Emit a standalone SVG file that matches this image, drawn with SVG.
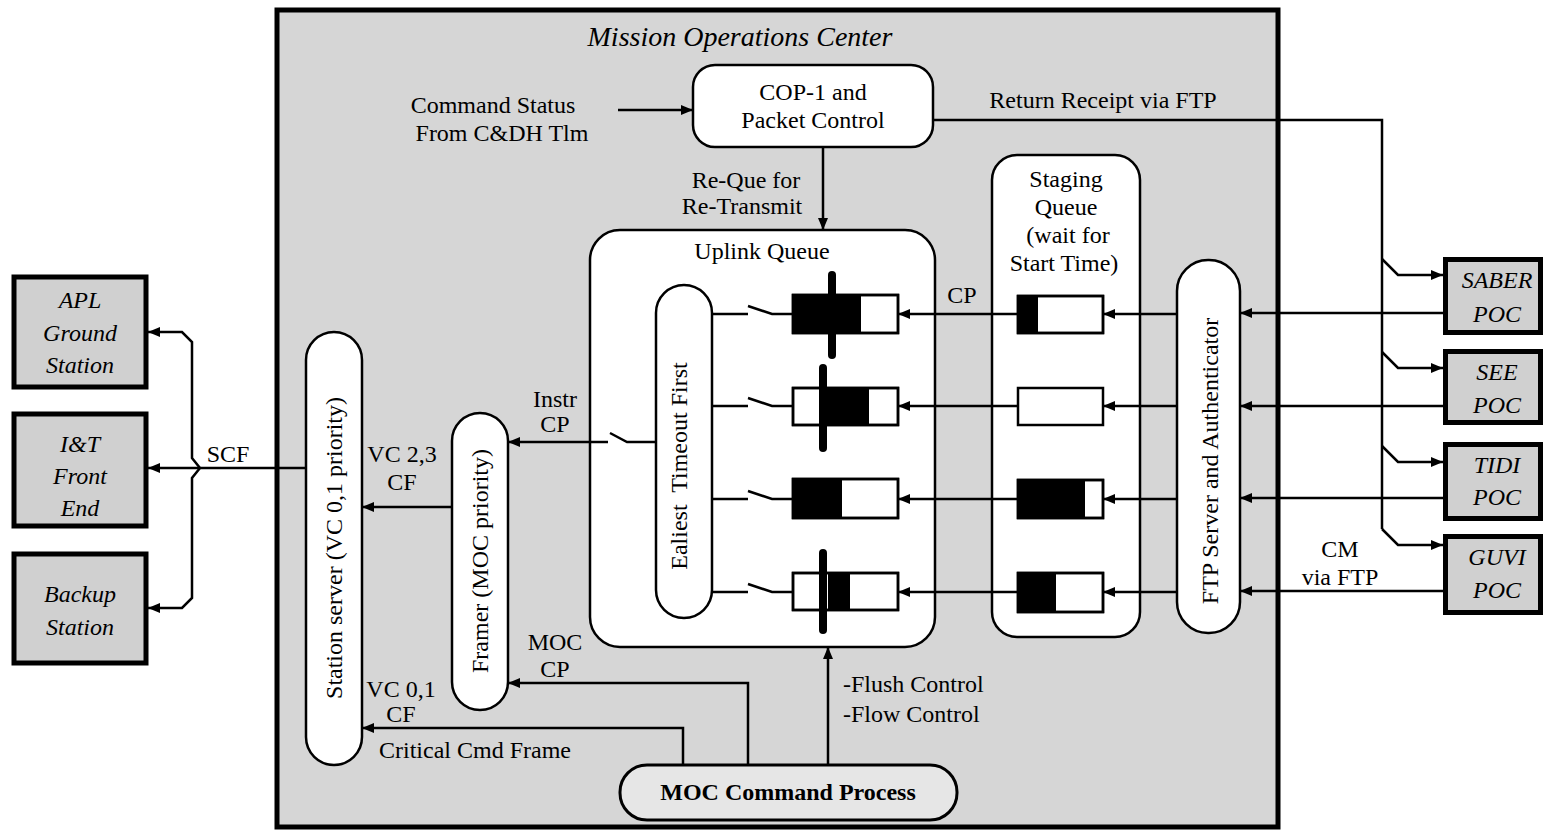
<svg xmlns="http://www.w3.org/2000/svg" width="1545" height="832" viewBox="0 0 1545 832">
<defs>
<marker id="ah" viewBox="0 0 12 10" refX="12" refY="5" markerWidth="12" markerHeight="10" markerUnits="userSpaceOnUse" orient="auto"><path d="M0,0 L12,5 L0,10 z" fill="#000"/></marker>
</defs>
<style>
text { font-family: "Liberation Serif", "Times New Roman", serif; fill:#000; font-size:24px; }
.m { text-anchor: middle; }
.it { font-style: italic; }
.b { font-weight: bold; }
.ln { fill:none; stroke:#000; stroke-width:2.5; }
.arr { marker-end:url(#ah); }
.pill { fill:#fff; stroke:#000; stroke-width:2.5; }
.ext { fill:#d0d0d0; stroke:#000; stroke-width:5; }
.buf { fill:#fff; stroke:#000; stroke-width:2.5; }
.bo { fill:none; stroke:#000; stroke-width:2.5; }
.blk { fill:#000; }
.bar { stroke:#000; stroke-width:8; stroke-linecap:round; }
</style>
<rect x="0" y="0" width="1545" height="832" fill="#fff"/>

<g id="moc">
<rect x="277" y="10" width="1001" height="817" fill="#d6d6d6" stroke="#000" stroke-width="5"/>
<text x="740" y="46" class="m it" style="font-size:28px">Mission Operations Center</text>
</g>

<g id="apl"><rect class="ext" x="14" y="277" width="132" height="110"/>
<text class="m it" x="80" y="308">APL</text><text class="m it" x="80" y="341">Ground</text><text class="m it" x="80" y="373">Station</text></g>
<g id="itfe"><rect class="ext" x="14" y="414" width="132" height="112"/>
<text class="m it" x="80" y="452">I&amp;T</text><text class="m it" x="80" y="484">Front</text><text class="m it" x="80" y="516">End</text></g>
<g id="backup"><rect class="ext" x="14" y="554" width="132" height="109"/>
<text class="m it" x="80" y="602">Backup</text><text class="m it" x="80" y="635">Station</text></g>

<g id="saber"><rect class="ext" x="1445.5" y="259.5" width="95" height="73"/>
<text class="m it" x="1497" y="288">SABER</text><text class="m it" x="1497" y="322">POC</text></g>
<g id="see"><rect class="ext" x="1445.5" y="351.5" width="95" height="71"/>
<text class="m it" x="1497" y="380">SEE</text><text class="m it" x="1497" y="413">POC</text></g>
<g id="tidi"><rect class="ext" x="1445.5" y="444.5" width="95" height="74"/>
<text class="m it" x="1497" y="473">TIDI</text><text class="m it" x="1497" y="505">POC</text></g>
<g id="guvi"><rect class="ext" x="1445.5" y="536.5" width="95" height="76"/>
<text class="m it" x="1497" y="565">GUVI</text><text class="m it" x="1497" y="598">POC</text></g>

<g id="cop"><rect class="pill" x="693" y="65" width="240" height="82" rx="22"/>
<text class="m" x="813" y="100">COP-1 and</text><text class="m" x="813" y="128">Packet Control</text></g>

<g id="station"><rect class="pill" x="306" y="332" width="56" height="433" rx="28"/>
<text class="m" transform="translate(342,548) rotate(-90)">Station server (VC 0,1 priority)</text></g>

<g id="framer"><rect class="pill" x="452" y="413" width="56" height="297" rx="28"/>
<text class="m" transform="translate(488,561) rotate(-90)">Framer (MOC priority)</text></g>

<g id="uplink"><rect class="pill" x="590" y="230" width="345" height="417" rx="30"/>
<text class="m" x="762" y="259">Uplink Queue</text></g>

<g id="eft"><rect class="pill" x="656" y="285" width="56" height="333" rx="28"/>
<text class="m" style="white-space:pre" transform="translate(687,466) rotate(-90)">Ealiest  Timeout First</text></g>

<g id="uq-buffers">
<rect class="buf" x="793" y="295" width="105" height="38"/><rect class="blk" x="793" y="295" width="68" height="38"/><rect class="bo" x="793" y="295" width="105" height="38"/>
<line class="bar" x1="832" y1="275" x2="832" y2="355"/>
<rect class="buf" x="793" y="388" width="105" height="37"/><rect class="blk" x="823" y="388" width="46" height="37"/><rect class="bo" x="793" y="388" width="105" height="37"/>
<line class="bar" x1="823" y1="368" x2="823" y2="448"/>
<rect class="buf" x="793" y="479" width="105" height="39"/><rect class="blk" x="793" y="479" width="49" height="39"/><rect class="bo" x="793" y="479" width="105" height="39"/>
<rect class="buf" x="793" y="573" width="105" height="37"/><rect class="blk" x="828" y="573" width="22" height="37"/><rect class="bo" x="793" y="573" width="105" height="37"/>
<line class="bar" x1="823" y1="553" x2="823" y2="630"/>
</g>

<g id="staging"><rect class="pill" x="992" y="155" width="148" height="482" rx="25"/>
<text class="m" x="1066" y="187">Staging</text><text class="m" x="1066" y="215">Queue</text><text class="m" x="1068" y="243">(wait for</text><text class="m" x="1064" y="271">Start Time)</text>
<rect class="buf" x="1018" y="296" width="85" height="37"/><rect class="blk" x="1018" y="296" width="20" height="37"/><rect class="bo" x="1018" y="296" width="85" height="37"/>
<rect class="buf" x="1018" y="388" width="85" height="37"/>
<rect class="buf" x="1018" y="480" width="85" height="38"/><rect class="blk" x="1018" y="480" width="67" height="38"/><rect class="bo" x="1018" y="480" width="85" height="38"/>
<rect class="buf" x="1018" y="573" width="85" height="39"/><rect class="blk" x="1018" y="573" width="38" height="39"/><rect class="bo" x="1018" y="573" width="85" height="39"/>
</g>

<g id="ftp"><rect class="pill" x="1177" y="260" width="63" height="373" rx="31"/>
<text class="m" transform="translate(1218,461) rotate(-90)">FTP Server and Authenticator</text></g>

<g id="moccmd"><rect x="620" y="765" width="337" height="55" rx="27" fill="#e6e6e6" stroke="#000" stroke-width="3"/>
<text class="m b" x="788" y="800">MOC Command Process</text></g>

<g id="connectors">
<path class="ln arr" d="M618,110 L693,110"/>
<path class="ln" d="M933,120 L1382,120 L1382,529"/>
<path class="ln arr" d="M1382,259 L1398,275 L1443,275"/>
<path class="ln arr" d="M1382,352 L1398,368 L1443,368"/>
<path class="ln arr" d="M1382,446 L1398,462 L1443,462"/>
<path class="ln arr" d="M1382,529 L1398,545 L1443,545"/>
<path class="ln arr" d="M823,147 L823,230"/>
<path class="ln arr" d="M1443,313 L1240,313"/>
<path class="ln arr" d="M1443,406 L1240,406"/>
<path class="ln arr" d="M1443,498 L1240,498"/>
<path class="ln arr" d="M1443,591 L1240,591"/>
<path class="ln arr" d="M1177,314 L1103,314"/>
<path class="ln arr" d="M1177,406 L1103,406"/>
<path class="ln arr" d="M1177,499 L1103,499"/>
<path class="ln arr" d="M1177,592 L1103,592"/>
<path class="ln arr" d="M1018,314 L898,314"/>
<path class="ln arr" d="M1018,406 L898,406"/>
<path class="ln arr" d="M1018,499 L898,499"/>
<path class="ln arr" d="M1018,592 L898,592"/>
<path class="ln" d="M712,314 L748,314 M748,306 L772,314 L793,314"/>
<path class="ln" d="M712,406 L748,406 M748,398 L772,406 L793,406"/>
<path class="ln" d="M712,499 L748,499 M748,491 L772,499 L793,499"/>
<path class="ln" d="M712,592 L748,592 M748,584 L772,592 L793,592"/>
<path class="ln" d="M656,442 L627,442 L610,433"/>
<path class="ln arr" d="M608,442 L508,442"/>
<path class="ln arr" d="M452,507 L362,507"/>
<path class="ln arr" d="M306,468 L148,468"/>
<path class="ln arr" d="M200,468 L192,458 L192,342 L182,332 L148,332"/>
<path class="ln arr" d="M200,468 L192,478 L192,598 L182,608 L148,608"/>
<path class="ln arr" d="M748,765 L748,683 L508,683"/>
<path class="ln arr" d="M683,765 L683,728 L362,728"/>
<path class="ln arr" d="M828,765 L828,647"/>
</g>

<g id="labels">
<text class="m" x="493" y="113">Command Status</text>
<text class="m" x="502" y="141">From C&amp;DH Tlm</text>
<text class="m" x="1103" y="108">Return Receipt via FTP</text>
<text class="m" x="746" y="188">Re-Que for</text>
<text class="m" x="742" y="214">Re-Transmit</text>
<text class="m" x="962" y="303">CP</text>
<text class="m" x="555" y="407">Instr</text>
<text class="m" x="555" y="432">CP</text>
<text class="m" x="402" y="462">VC 2,3</text>
<text class="m" x="402" y="490">CF</text>
<text class="m" x="228" y="462">SCF</text>
<text class="m" x="555" y="650">MOC</text>
<text class="m" x="555" y="677">CP</text>
<text class="m" x="401" y="697">VC 0,1</text>
<text class="m" x="401" y="722">CF</text>
<text class="m" x="475" y="758">Critical Cmd Frame</text>
<text x="843" y="692">-Flush Control</text>
<text x="843" y="722">-Flow Control</text>
<text class="m" x="1340" y="557">CM</text>
<text class="m" x="1340" y="585">via FTP</text>
</g>
</svg>
